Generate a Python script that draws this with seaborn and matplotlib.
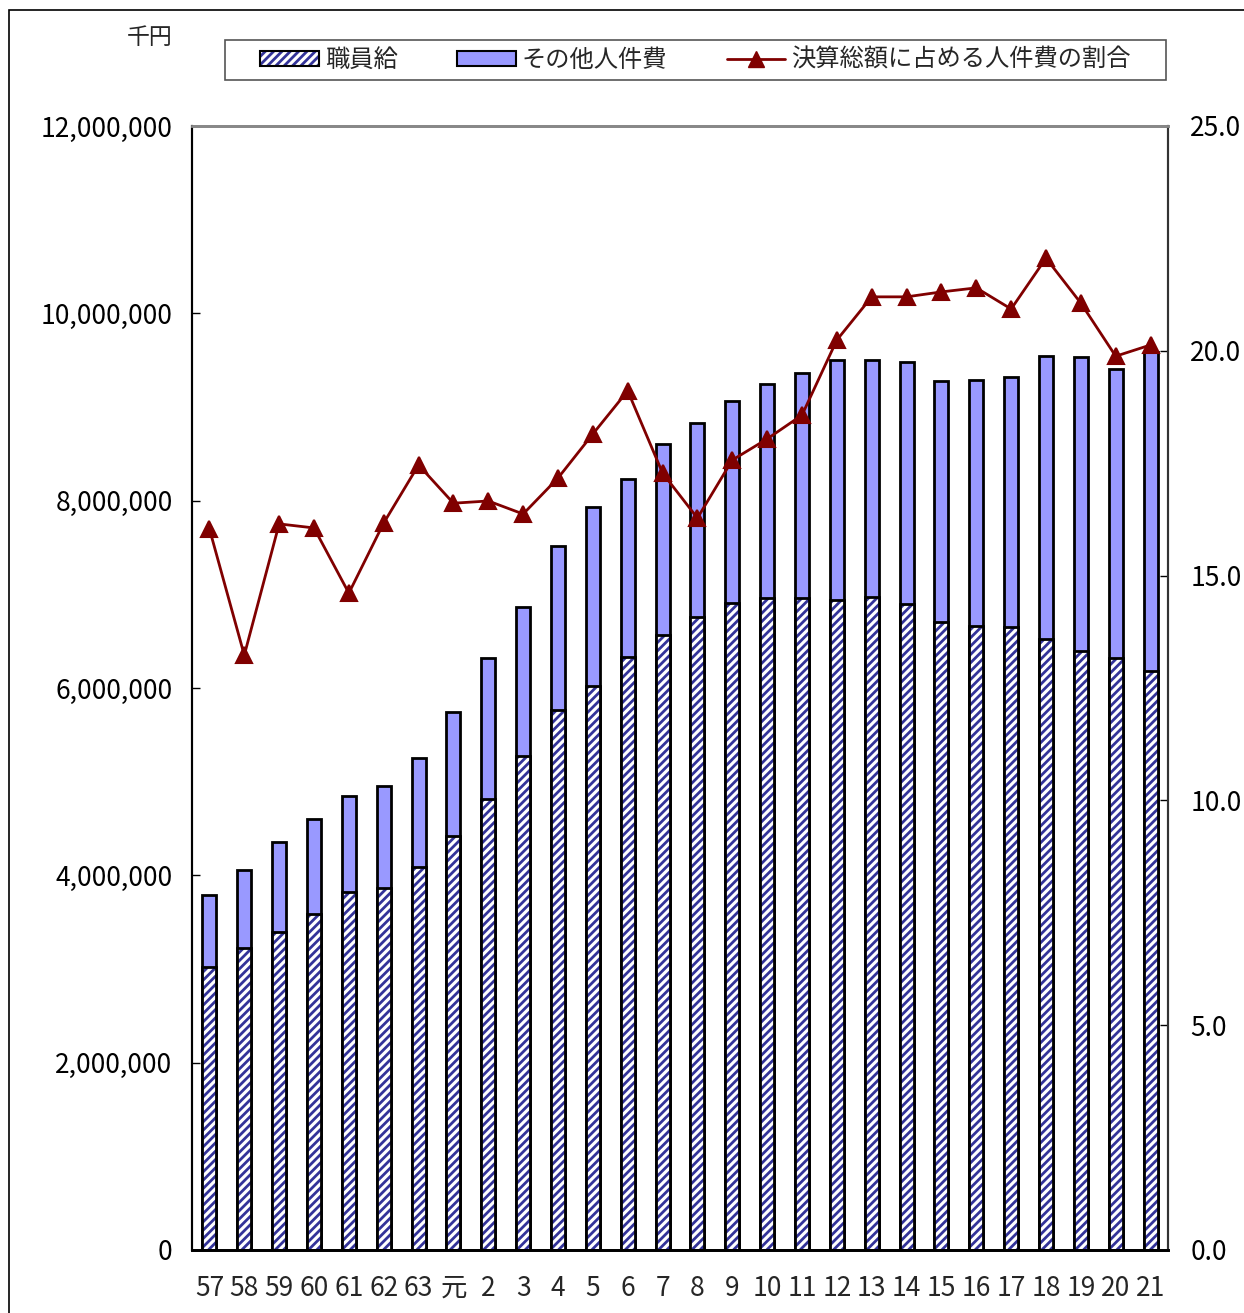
import numpy as np
import matplotlib
matplotlib.use("Agg")
import matplotlib.pyplot as plt
import seaborn as sns
from matplotlib.patches import Patch, Rectangle
from matplotlib.lines import Line2D
from matplotlib.ticker import FuncFormatter

# Fiscal years (Showa 57 .. Heisei 21)
years = ["57", "58", "59", "60", "61", "62", "63", "元", "2", "3", "4", "5", "6", "7",
         "8", "9", "10", "11", "12", "13", "14", "15", "16", "17", "18", "19", "20", "21"]

# Personnel costs in thousand yen
total_cost = [3790000, 4057000, 4356000, 4601000, 4847000, 4954000, 5253000, 5744000,
              6320000, 6865000, 7516000, 7932000, 8231000, 8605000, 8829000, 9064000,
              9246000, 9363000, 9502000, 9502000, 9480000, 9278000, 9288000, 9320000,
              9544000, 9534000, 9406000, 9587000]
staff_pay = [3021000, 3224000, 3395000, 3587000, 3822000, 3865000, 4089000, 4420000,
             4815000, 5274000, 5765000, 6021000, 6331000, 6566000, 6758000, 6907000,
             6961000, 6961000, 6940000, 6972000, 6897000, 6705000, 6662000, 6651000,
             6523000, 6395000, 6320000, 6181000]

# Share of personnel costs in total settlement (%)
ratio = [16.04, 13.23, 16.15, 16.06, 14.61, 16.17, 17.46, 16.61, 16.66, 16.37, 17.17,
         18.15, 19.11, 17.28, 16.28, 17.57, 18.04, 18.57, 20.24, 21.20, 21.20, 21.31,
         21.40, 20.93, 22.06, 21.06, 19.88, 20.13]

sns.set_style("white")
plt.rcParams["font.family"] = ["Noto Sans CJK JP", "DejaVu Sans"]
plt.rcParams["hatch.linewidth"] = 2.0

BAR_BLUE = "#9999ff"
HATCH_BLUE = "#333399"
LINE_RED = "#800000"

fig = plt.figure(figsize=(12.44, 13.13), dpi=100)
ax = fig.add_axes([192 / 1244, 1 - 1250 / 1313, 976 / 1244, 1124 / 1313])

# stacked bars: full height first, hatched staff pay over it
sns.barplot(x=years, y=total_cost, color=BAR_BLUE, saturation=1, width=0.4,
            edgecolor="black", linewidth=2, ax=ax)
sns.barplot(x=years, y=staff_pay, color="white", saturation=1, width=0.4,
            edgecolor=HATCH_BLUE, linewidth=0, hatch="////", ax=ax)
sns.barplot(x=years, y=staff_pay, color="black", fill=False, width=0.4,
            linewidth=2, ax=ax)

ax2 = ax.twinx()
sns.pointplot(x=years, y=ratio, color=LINE_RED, markers="^", linestyles="-",
              errorbar=None, markersize=11, linewidth=2, ax=ax2)

ax.set_ylim(0, 12000000)
ax.set_yticks(np.arange(0, 12000001, 2000000))
ax.yaxis.set_major_formatter(FuncFormatter(lambda v, p: f"{int(v):,}"))
ax2.set_ylim(0, 25)
ax2.set_yticks(np.arange(0, 26, 5))
ax2.yaxis.set_major_formatter(FuncFormatter(lambda v, p: f"{v:.1f}"))
ax.set_xlim(-0.5, len(years) - 0.5)
ax.set_xticks(range(len(years)))
ax.set_xticklabels(years)
ax.set_xticks(np.arange(len(years) - 1) + 0.5, minor=True)

for a in (ax, ax2):
    a.set_xlabel("")
    a.set_ylabel("")
    a.grid(False)

ax.tick_params(axis="x", which="major", length=0, pad=18, labelsize=19)
ax.tick_params(axis="x", which="minor", direction="in", length=6, width=1, color="black")
ax.tick_params(axis="y", direction="in", length=6, width=1, pad=14, labelsize=19,
               left=True, colors="black")
ax2.tick_params(axis="y", direction="in", length=6, width=1, pad=16, labelsize=19,
                right=True, colors="black")

for a in (ax, ax2):
    a.spines["top"].set_color("#888888")
    a.spines["top"].set_linewidth(2)
    a.spines["left"].set_color("black")
    a.spines["left"].set_linewidth(1.5)
    a.spines["bottom"].set_color("black")
    a.spines["bottom"].set_linewidth(2)
    a.spines["right"].set_color("#333333")
    a.spines["right"].set_linewidth(1.5)

fig.text(150 / 1244, 1 - 37 / 1313, "千円", ha="center", va="center", fontsize=16.5)

# legend
staff_handle = (Patch(facecolor="white", edgecolor=HATCH_BLUE, linewidth=0, hatch="////"),
                Patch(facecolor="none", edgecolor="black", linewidth=1.5))
other_handle = Patch(facecolor=BAR_BLUE, edgecolor="black", linewidth=1.5)
ratio_handle = Line2D([], [], color=LINE_RED, marker="^", markersize=11, linewidth=2)
fig.legend([staff_handle, other_handle, ratio_handle],
           ["職員給", "その他人件費", "決算総額に占める人件費の割合"],
           loc="center", bbox_to_anchor=(695.5 / 1244, 1 - 60 / 1313), ncol=3,
           frameon=False, fontsize=17.5, handlelength=2.4, handleheight=0.55,
           handletextpad=0.25, columnspacing=2.45)
fig.add_artist(Rectangle((225 / 1244, 1 - 80 / 1313), 941 / 1244, 40 / 1313,
                         transform=fig.transFigure, facecolor="none",
                         edgecolor="#555555", linewidth=1.2))

# outer frame of the original chart area
fig.add_artist(Rectangle((9 / 1244, -0.05), 1.2, 1.05 - 10 / 1313,
                         transform=fig.transFigure, facecolor="none",
                         edgecolor="black", linewidth=1.2, clip_on=False))

fig.savefig("out.png", dpi=100)
